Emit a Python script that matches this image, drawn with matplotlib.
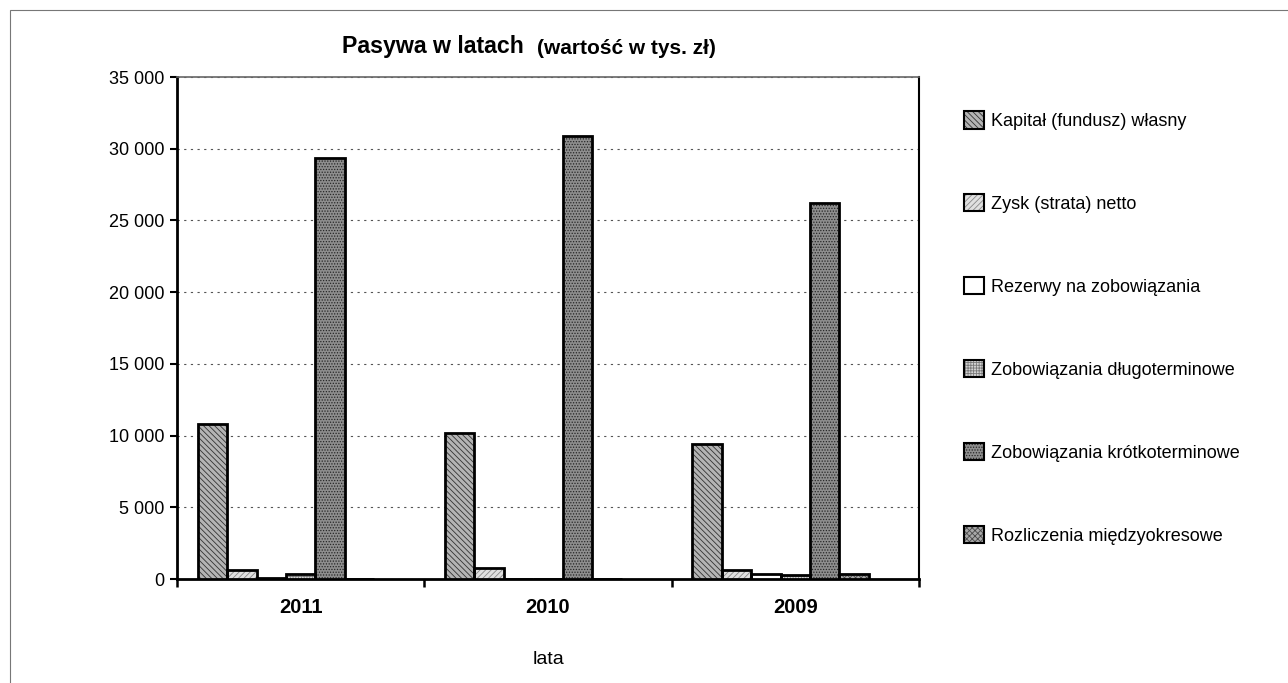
import matplotlib
matplotlib.use("Agg")
import matplotlib.pyplot as plt
import numpy as np
from matplotlib.patches import Patch, Rectangle
from matplotlib.ticker import FuncFormatter, MultipleLocator
from matplotlib.legend_handler import HandlerTuple

plt.rcParams['font.family'] = ['Liberation Sans', 'DejaVu Sans']
plt.rcParams['hatch.linewidth'] = 0.6

years = ['2011', '2010', '2009']
series = ['Kapitał (fundusz) własny', 'Zysk (strata) netto', 'Rezerwy na zobowiązania',
          'Zobowiązania długoterminowe', 'Zobowiązania krótkoterminowe',
          'Rozliczenia międzyokresowe']
kapital = [10830, 10200, 9410]
zysk = [620, 780, 620]
rezerwy = [40, 20, 380]
dlugo = [380, 30, 280]
krotko = [29360, 30900, 26240]
rozliczenia = [0, 10, 330]
values = [kapital, zysk, rezerwy, dlugo, krotko, rozliczenia]

faces = ['#b4b4b4', '#e0e0e0', 'white', '#d4d4d4', '#8e8e8e', '#a8a8a8']
hatch_cols = ['#333333', '#888888', 'white', '#7a7a7a', '#262626', '#4a4a4a']
hatches = ['\\\\\\\\\\\\', '//////', '', '++++++', '......', 'xxxxxx']

W, H = 1288, 683
fig = plt.figure(figsize=(W / 100, H / 100), dpi=100)
ax = fig.add_axes([177 / W, 1 - 579 / H, (919 - 177) / W, (579 - 77) / H])

# outer chart frame
fig.patches.append(Rectangle((10 / W, -0.01), 1.0, 1 - 10 / H + 0.01, transform=fig.transFigure,
                             fill=False, edgecolor='#777777', linewidth=0.8))

w = 0.119
x = np.arange(len(years))
handles = []
for j, vals in enumerate(values):
    pos = x + 0.5 + (j - 3) * w
    ax.bar(pos, vals, w, color=faces[j], edgecolor=hatch_cols[j], hatch=hatches[j],
           linewidth=0, zorder=3)
    ax.bar(pos, vals, w, fill=False, edgecolor='black', linewidth=2, zorder=4)
    handles.append((Patch(facecolor=faces[j], edgecolor=hatch_cols[j], hatch=hatches[j], linewidth=0),
                    Patch(fill=False, edgecolor='black', linewidth=1.5)))

ax.set_xlim(0, 3)
ax.set_ylim(0, 35000)
ax.yaxis.set_major_locator(MultipleLocator(5000))
ax.yaxis.set_major_formatter(FuncFormatter(lambda v, p: f'{int(v):,}'.replace(',', ' ')))
ax.grid(axis='y', linestyle=(0, (2, 4)), color='#555555', linewidth=0.8, zorder=0)

ax.set_xticks(x + 0.5)
ax.set_xticklabels(years, fontweight='bold', fontsize=14.5)
ax.set_xticks([0, 1, 2, 3], minor=True)
ax.tick_params(axis='x', which='major', length=0, pad=14)
ax.tick_params(axis='x', which='minor', length=6, width=1.8, direction='out')
ax.tick_params(axis='y', length=5, width=1.5, direction='out', labelsize=13, pad=4)
ax.set_xlabel('lata', fontsize=14, labelpad=24)

for side in ['left', 'bottom']:
    ax.spines[side].set_linewidth(2)
ax.spines['top'].set_color('#666666')
ax.spines['top'].set_linewidth(1.2)
ax.spines['right'].set_linewidth(1.5)

fig.text(342 / W, 1 - 47 / H, 'Pasywa w latach', fontsize=16.7, fontweight='bold',
         ha='left', va='center')
fig.text(537 / W, 1 - 48 / H, '(wartość w tys. zł)', fontsize=15, fontweight='bold',
         ha='left', va='center')

fig.legend(handles, series, loc='upper left', bbox_to_anchor=(948 / W, 1 - 95 / H),
           frameon=False, fontsize=13, handlelength=1.1, handleheight=1.1,
           handletextpad=0.4, labelspacing=3.55,
           handler_map={tuple: HandlerTuple(ndivide=1, pad=0)})

fig.savefig('out.png', dpi=100)
